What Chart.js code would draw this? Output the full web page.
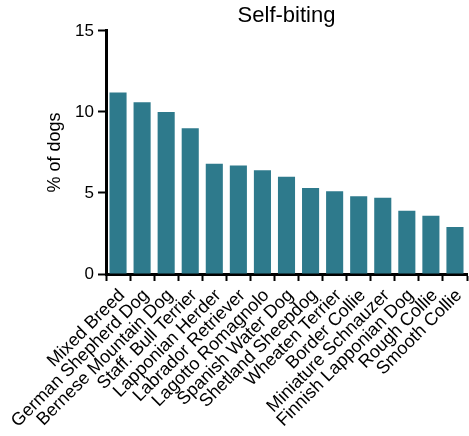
<!DOCTYPE html>
<html>
<head>
<meta charset="utf-8">
<script src="https://cdn.jsdelivr.net/npm/chart.js@4"></script>
<style>
  body { margin: 0; background: #fff; }
</style>
</head>
<body>
<canvas id="self_biting_chart" width="469" height="436"></canvas>
<script>
const breeds = ['Mixed Breed', 'German Shepherd Dog', 'Bernese Mountain Dog', 'Staff. Bull Terrier',
    'Lapponian Herder', 'Labrador Retriever', 'Lagotto Romagnolo', 'Spanish Water Dog',
    'Shetland Sheepdog', 'Wheaten Terrier', 'Border Collie', 'Miniature Schnauzer',
    'Finnish Lapponian Dog', 'Rough Collie', 'Smooth Collie'];
const percent_of_dogs = [11.2, 10.6, 10.0, 9.0, 6.8, 6.7, 6.4, 6.0, 5.3, 5.1, 4.8, 4.7, 3.9, 3.6, 2.9];
const y_ticks = [0, 5, 10, 15];

const bar_color = '#2e7a8c';
const font_family = '"Liberation Sans", Arial, sans-serif';

const self_biting_chart = document.getElementById('self_biting_chart');

new Chart(self_biting_chart, {
    type: 'bar',
    data: {
        labels: breeds,
        datasets: [{
            label: '% of dogs',
            data: percent_of_dogs,
            backgroundColor: bar_color,
            borderWidth: 0,
            categoryPercentage: 1,
            barPercentage: 0.71,
        }]
    },
    options: {
        responsive: false,
        animation: false,
        layout: {
            padding: { left: 0, right: 2, top: 0, bottom: 0 }
        },
        plugins: {
            legend: false,
            tooltip: { enabled: false },
            title: {
                display: true,
                text: 'Self-biting',
                color: '#000',
                fullSize: false,
                font: { family: font_family, size: 22, weight: 'normal', lineHeight: 1.2 },
                padding: { top: 3, bottom: 1.5 }
            }
        },
        scales: {
            x: {
                grid: {
                    display: true,
                    drawOnChartArea: false,
                    drawTicks: true,
                    tickLength: 7,
                    tickWidth: 2,
                    tickColor: '#000',
                    offset: true,
                },
                border: { display: true, color: '#000', width: 3 },
                ticks: {
                    color: '#000',
                    autoSkip: false,
                    minRotation: 45,
                    maxRotation: 45,
                    padding: 4,
                    labelOffset: 4,
                    font: { family: font_family, size: 18 }
                },
                afterFit: function (scale) {
                    scale.height = 162;
                    scale.paddingLeft = 0;
                    scale.paddingRight = 0;
                }
            },
            y: {
                min: 0,
                max: 15,
                afterBuildTicks: function (scale) {
                    scale.ticks = y_ticks.map(v => ({ value: v }));
                },
                grid: {
                    display: true,
                    drawOnChartArea: false,
                    drawTicks: true,
                    tickLength: 8,
                    tickWidth: 2,
                    tickColor: '#000',
                },
                border: { display: true, color: '#000', width: 3 },
                ticks: {
                    color: '#000',
                    padding: 4,
                    font: { family: font_family, size: 17 }
                },
                title: {
                    display: true,
                    text: '% of dogs',
                    color: '#000',
                    font: { family: font_family, size: 18 },
                    padding: { top: 44, bottom: 0 }
                },
                afterFit: function (scale) {
                    scale.width = 106;
                    scale.paddingTop = 0;
                    scale.paddingBottom = 0;
                }
            }
        }
    }
});
</script>
</body>
</html>
